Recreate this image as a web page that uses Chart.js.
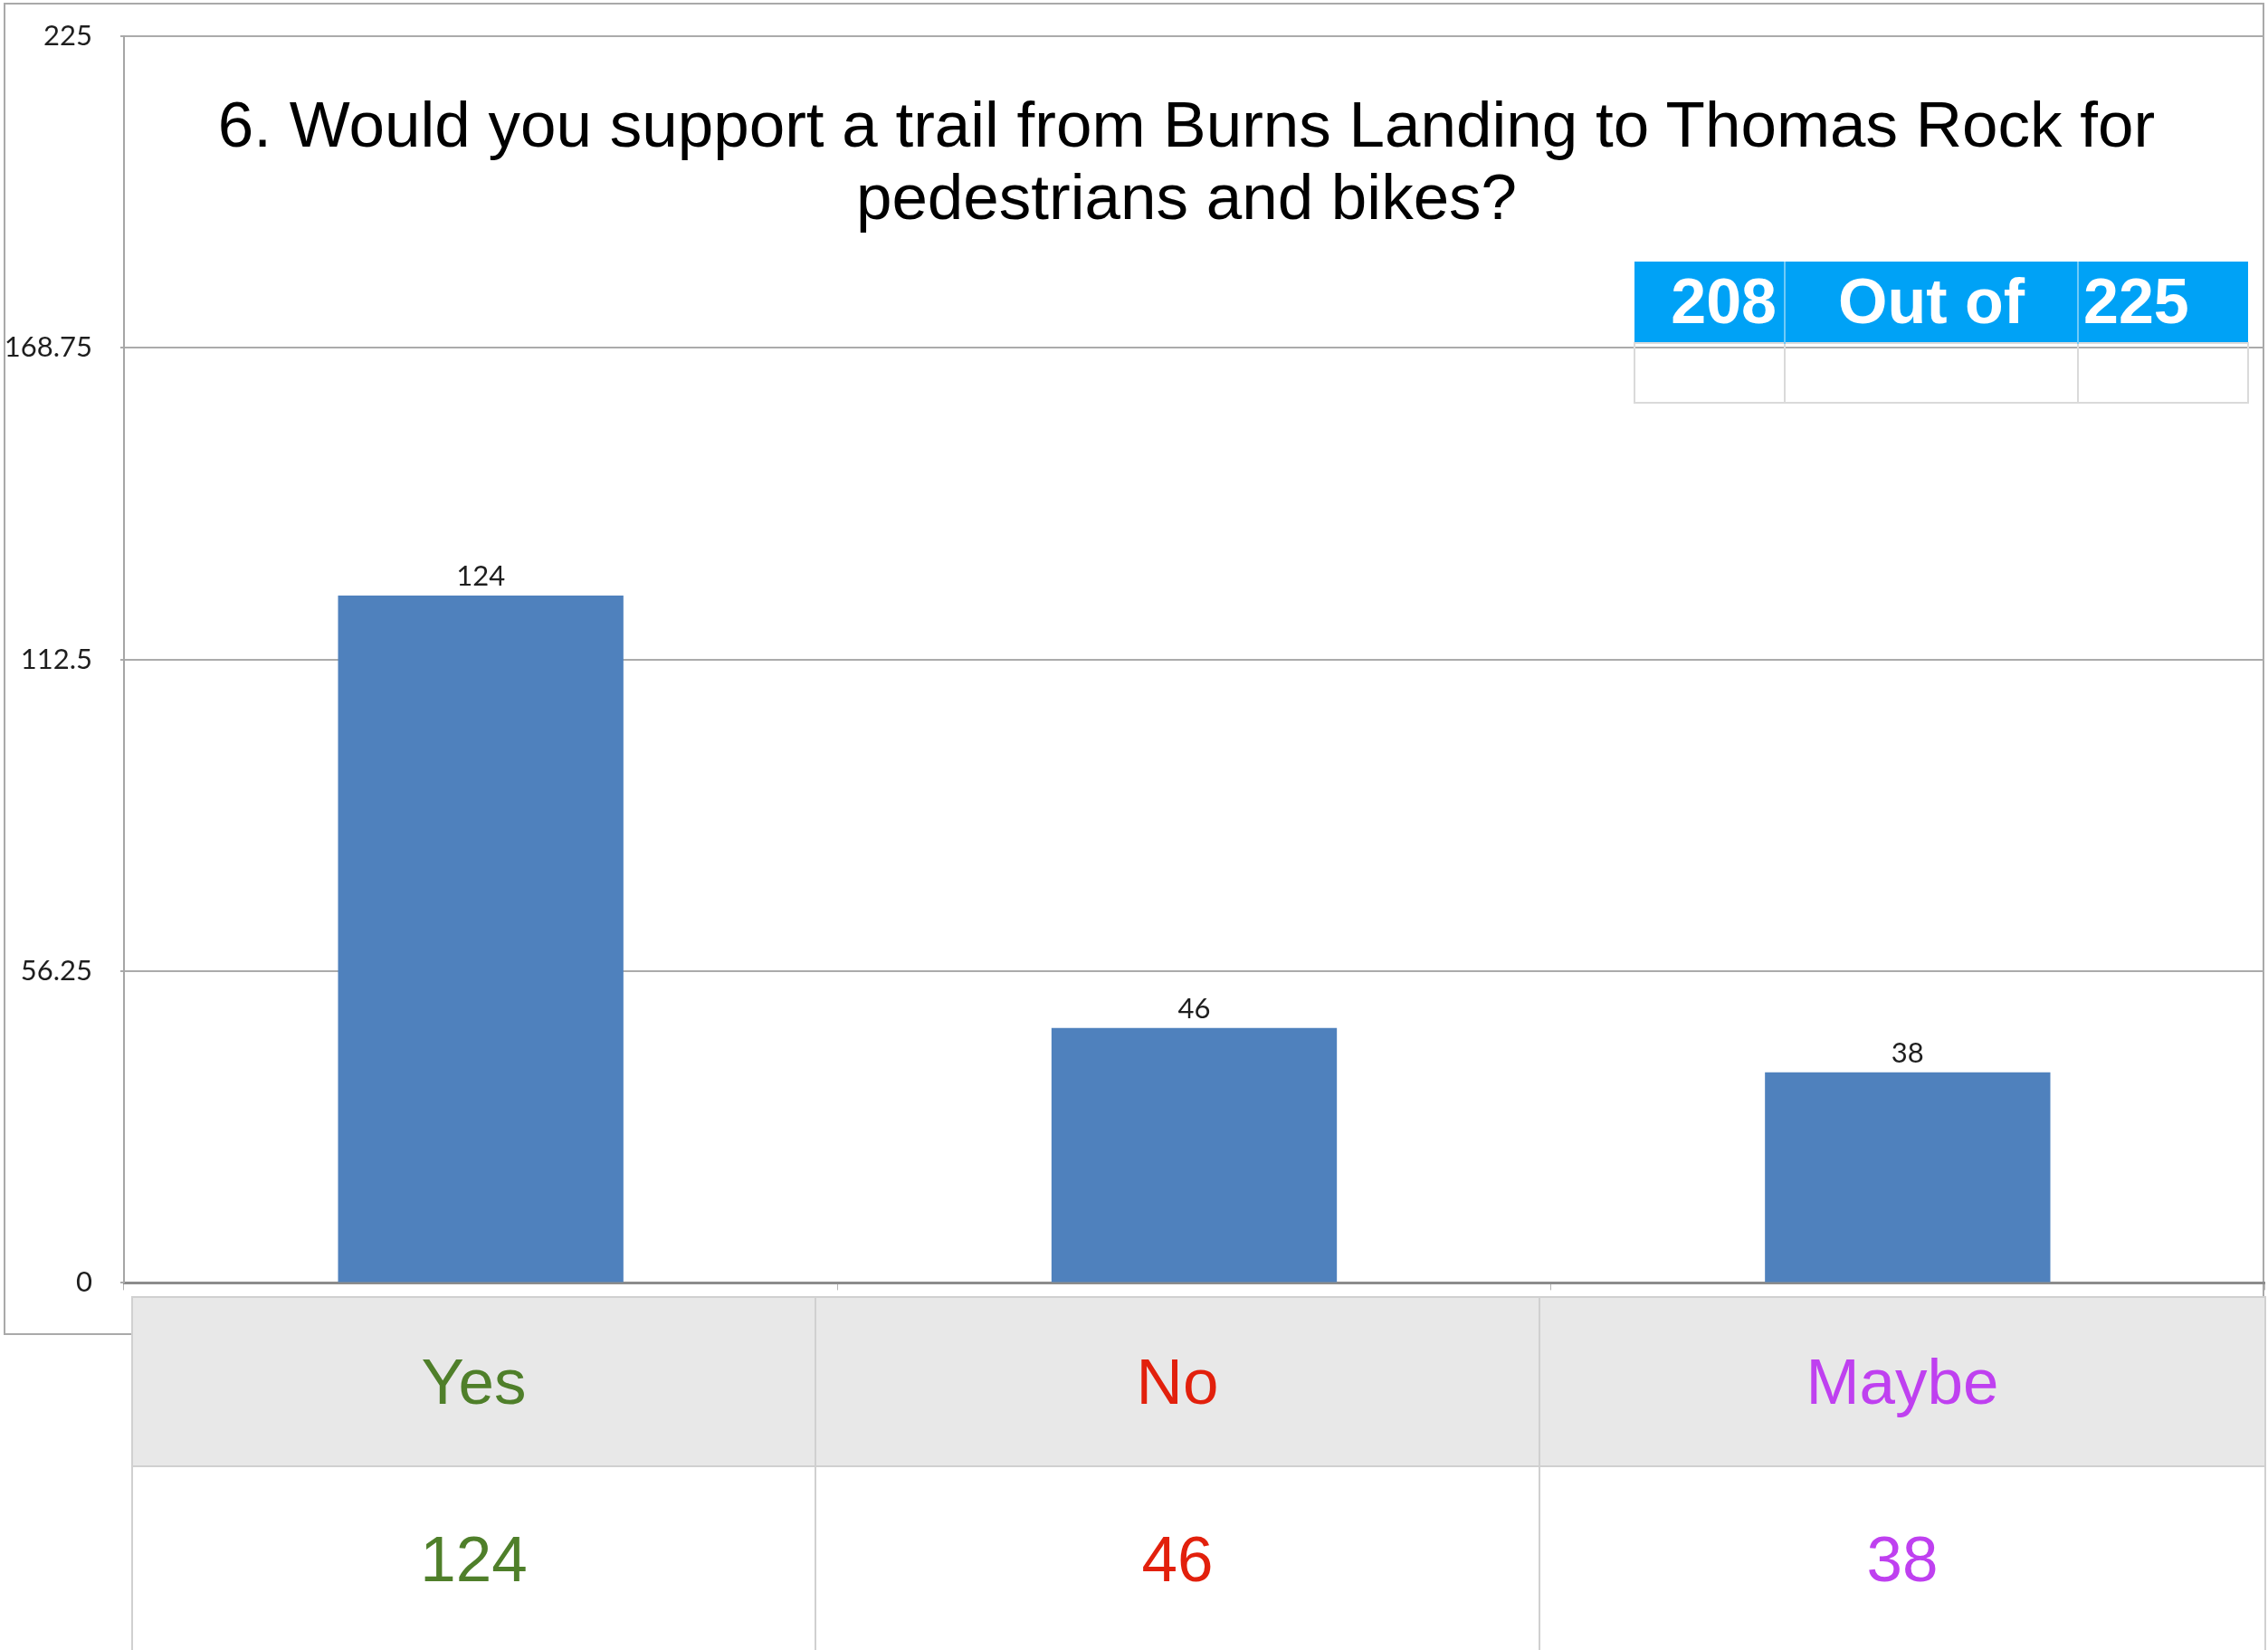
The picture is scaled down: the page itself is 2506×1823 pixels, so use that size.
<!DOCTYPE html>
<html>
<head>
<meta charset="utf-8">
<script src="https://cdn.jsdelivr.net/npm/chart.js@4.4.1/dist/chart.umd.min.js"></script>
<style>
  html, body { margin: 0; padding: 0; background: #fff; }
  #page { position: relative; width: 2506px; height: 1823px; overflow: hidden; }
  #frame { position: absolute; left: 4px; top: 3px; width: 2498px; height: 1472px;
    border: 2px solid #a9a9a9; box-sizing: border-box; }
  /* canvas is nudged up so the tick-label overhang doesn't push the plot down */
  #chartBox { position: absolute; left: 0; top: -10px; width: 2506px; height: 1477px; }
  #title { position: absolute; left: 111px; top: 98px; width: 2400px; text-align: center;
    font-family: "Liberation Sans", Arial, sans-serif; font-size: 71px; line-height: 80px;
    color: #000; white-space: nowrap; }
  #outOf { position: absolute; left: 1805px; top: 289px; width: 678px; border-collapse: collapse;
    table-layout: fixed; font-family: "Liberation Sans", Arial, sans-serif; }
  #outOf td { padding: 0; box-sizing: border-box; white-space: nowrap; overflow: hidden; }
  #outOf tr.top td { background: #00a2f6; color: #fff; font-weight: bold; font-size: 70px;
    height: 89px; line-height: 89px; border-left: 2px solid #6fcaf8; }
  #outOf tr.top td:first-child { border-left: none; }
  #outOf tr.low td { height: 66px; border: 2px solid #dadada; background: transparent; }
  #answers { position: absolute; left: 145px; top: 1432px; width: 2357px; border-collapse: collapse;
    font-family: "Liberation Sans", Arial, sans-serif; font-size: 71px; table-layout: fixed; }
  #answers td { border: 2px solid #d0d0d0; text-align: center; padding: 0; }
  #answers tr.head td { background: #e8e8e8; height: 185px; }
  #answers tr.vals td { background: #fff; height: 202px; }
</style>
</head>
<body>
<div id="page">
  <div id="frame"></div>
  <div id="chartBox"><canvas id="surveyChart" width="2506" height="1477"></canvas></div>
  <div id="title">6. Would you support a trail from Burns Landing to Thomas Rock for<br>pedestrians and bikes?</div>
  <table id="outOf"></table>
  <table id="answers"></table>
</div>
<script>
const categories = ["Yes", "No", "Maybe"];
const counts = [124, 46, 38];
const labelColors = ["#4f7f2a", "#e2200c", "#bf40f0"];
const yTicks = [0, 56.25, 112.5, 168.75, 225];
const answered = 208;
const total = 225;

// "208 Out of 225" box
const outOf = document.getElementById("outOf");
outOf.innerHTML =
  '<colgroup><col style="width:166px"><col style="width:324px"><col style="width:188px"></colgroup>' +
  '<tr class="top">' +
  '<td style="text-align:right;padding-right:8px">' + answered + '</td>' +
  '<td style="text-align:center">Out of</td>' +
  '<td style="text-align:left;padding-left:5px">' + total + '</td>' +
  '</tr>' +
  '<tr class="low"><td></td><td style="border-left-color:#a8a8a8"></td><td></td></tr>';

// table under the bars
const answers = document.getElementById("answers");
let head = '<tr class="head">';
let vals = '<tr class="vals">';
categories.forEach((cat, i) => {
  head += '<td style="color:' + labelColors[i] + '">' + cat + '</td>';
  vals += '<td style="color:' + labelColors[i] + '">' + counts[i] + '</td>';
});
answers.innerHTML = '<colgroup><col style="width:755px"><col style="width:800px"><col style="width:802px"></colgroup>' + head + '</tr>' + vals + '</tr>';

const valueLabels = {
  id: "valueLabels",
  afterDatasetsDraw(chart) {
    const ctx = chart.ctx;
    const meta = chart.getDatasetMeta(0);
    ctx.save();
    ctx.font = "31px Lato";
    ctx.fillStyle = "#1e1e1e";
    ctx.textAlign = "center";
    ctx.textBaseline = "middle";
    meta.data.forEach((bar, i) => {
      ctx.fillText(String(counts[i]), bar.x, bar.y - 21);
    });
    ctx.restore();
  },
};

new Chart("surveyChart", {
  type: "bar",
  data: {
    labels: categories,
    datasets: [
      {
        data: counts,
        backgroundColor: "#4f81bd",
        borderWidth: 0,
        barPercentage: 0.4,
        categoryPercentage: 1,
      },
    ],
  },
  options: {
    responsive: false,
    animation: false,
    layout: { padding: { top: 0, right: 4, bottom: 0, left: 0 } },
    plugins: {
      legend: { display: false },
      tooltip: { enabled: false },
    },
    scales: {
      x: {
        grid: { drawOnChartArea: false, color: "#b5b5b5", tickLength: 8, offset: true },
        border: { color: "#8c8c8c", width: 3 },
        ticks: { display: false },
        afterFit: (scale) => { scale.height = 8; },
      },
      y: {
        min: 0,
        max: 225,
        afterBuildTicks: (scale) => {
          scale.ticks = yTicks.map((v) => ({ value: v }));
        },
        grid: { color: "#ababab", lineWidth: 2, tickLength: 4 },
        border: { color: "#a6a6a6", width: 2 },
        ticks: {
          padding: 31,
          color: "#1e1e1e",
          font: { family: "Lato", size: 31 },
          callback: (v) => String(v),
        },
        afterFit: (scale) => { scale.width = 137; },
      },
    },
  },
  plugins: [valueLabels],
});
</script>
</body>
</html>
